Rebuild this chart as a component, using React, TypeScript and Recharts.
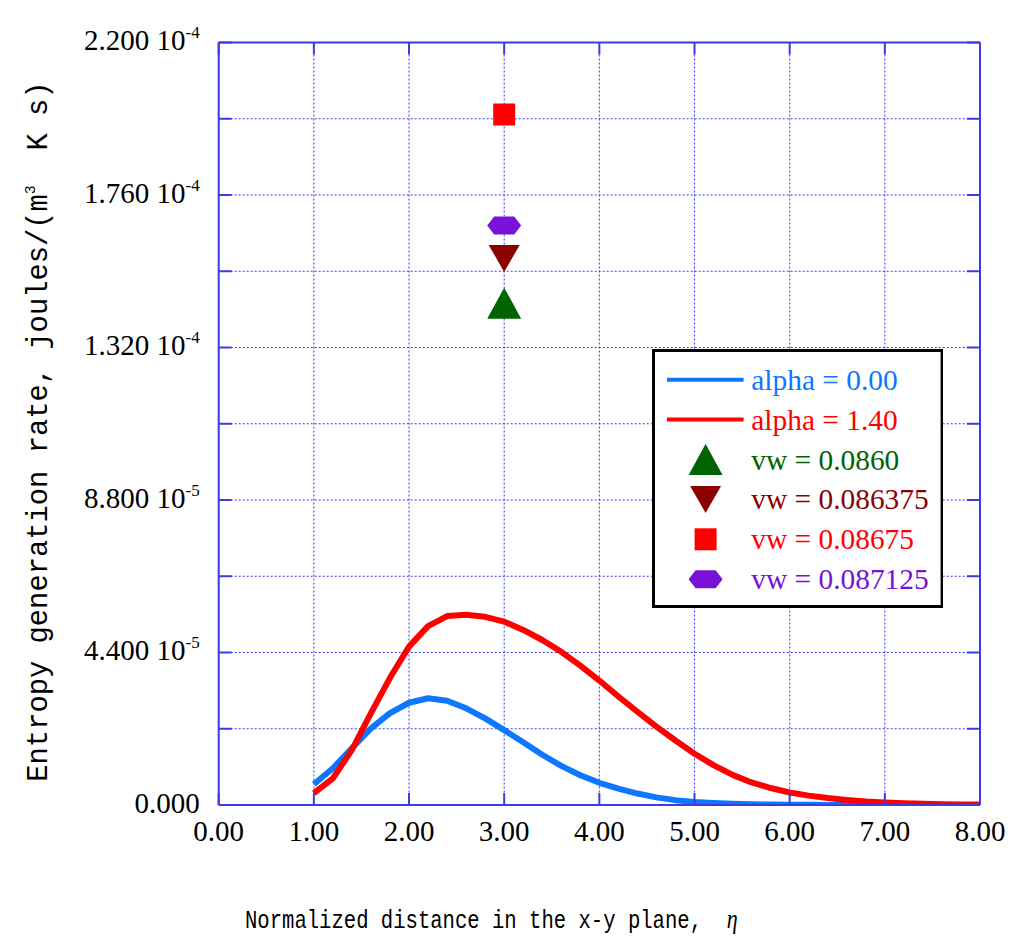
import React from 'react';
import { ComposedChart, Line, Scatter, XAxis, YAxis, CartesianGrid, Legend } from 'recharts';

// ---------------- data ----------------
const etaValues = [
  1.0, 1.2, 1.4, 1.6, 1.8, 2.0, 2.2, 2.4, 2.6, 2.8, 3.0, 3.2, 3.4, 3.6, 3.8, 4.0, 4.2, 4.4,
  4.6, 4.8, 5.0, 5.2, 5.4, 5.6, 5.8, 6.0, 6.2, 6.4, 6.6, 6.8, 7.0, 7.2, 7.4, 7.6, 7.8, 8.0,
];
const entropyAlpha000 = [
  0.60e-5, 1.06e-5, 1.64e-5, 2.21e-5, 2.65e-5, 2.95e-5, 3.08e-5, 3.01e-5, 2.79e-5, 2.50e-5,
  2.16e-5, 1.81e-5, 1.45e-5, 1.13e-5, 0.86e-5, 0.64e-5, 0.47e-5, 0.33e-5, 0.22e-5, 0.14e-5,
  0.09e-5, 0.06e-5, 0.035e-5, 0.02e-5, 0.012e-5, 0.007e-5, 0.004e-5, 0.002e-5, 0.001e-5,
  0.0006e-5, 0.0003e-5, 0.0002e-5, 0.0001e-5, 0.0001e-5, 0, 0,
];
const entropyAlpha140 = [
  0.34e-5, 0.77e-5, 1.59e-5, 2.65e-5, 3.67e-5, 4.57e-5, 5.16e-5, 5.45e-5, 5.49e-5, 5.43e-5,
  5.29e-5, 5.05e-5, 4.76e-5, 4.42e-5, 4.02e-5, 3.59e-5, 3.13e-5, 2.69e-5, 2.26e-5, 1.86e-5,
  1.48e-5, 1.15e-5, 0.87e-5, 0.65e-5, 0.49e-5, 0.36e-5, 0.27e-5, 0.20e-5, 0.145e-5, 0.10e-5,
  0.07e-5, 0.05e-5, 0.035e-5, 0.025e-5, 0.018e-5, 0.012e-5,
];
const markerEta = 3.0;
const markerValues = [1.448e-4, 1.577e-4, 1.992e-4, 1.672e-4]; // vw = 0.0860, 0.086375, 0.08675, 0.087125

const seriesLabels = [
  'alpha = 0.00',
  'alpha = 1.40',
  'vw = 0.0860',
  'vw = 0.086375',
  'vw = 0.08675',
  'vw = 0.087125',
];

const xTicks = [0, 1, 2, 3, 4, 5, 6, 7, 8];
const xTickLabels = ['0.00', '1.00', '2.00', '3.00', '4.00', '5.00', '6.00', '7.00', '8.00'];
const yTicks = [0, 0.000022, 0.000044, 0.000066, 0.000088, 0.00011, 0.000132, 0.000154, 0.000176, 0.000198, 0.00022];
const yTickMantissa = ['0.000', '', '4.400', '', '8.800', '', '1.320', '', '1.760', '', '2.200'];
const yTickExponent = ['', '', '-5', '', '-5', '', '-4', '', '-4', '', '-4'];

const xTitle = 'Normalized distance in the x-y plane,  ';
const xTitleSymbol = 'η';
const yTitleMain = 'Entropy generation rate, joules/(m';
const yTitleSup = '3';
const yTitleEnd = '  K s)';

// ---------------- styles ----------------
const W = 1008;
const H = 930;
const PLOT_L = 210.7;
const PLOT_T = 34.5;
const PLOT_R = 972;
const PLOT_B = 797;

const AXIS = '#3c3ce6';
const GRID = '#3a3af2';
const BLUE = '#0d78ff';
const RED = '#ff0000';
const GREEN = '#006400';
const DARKRED = '#8b0000';
const PURPLE = '#7812d8';
const SERIF = "'Liberation Serif', 'Times New Roman', serif";
const MONO = "'Liberation Mono', 'Courier New', monospace";

const seriesColors = [BLUE, RED, GREEN, DARKRED, RED, PURPLE];
const markerKinds = ['up', 'down', 'square', 'hex'];

const alpha000Data = etaValues.map((x, i) => ({ x, y: entropyAlpha000[i] }));
const alpha140Data = etaValues.map((x, i) => ({ x, y: entropyAlpha140[i] }));
const markerData = markerValues.map((v) => [{ x: markerEta, y: v }]);

function markerPath(kind: string, cx: number, cy: number): string {
  switch (kind) {
    case 'up':
      return `M${cx},${cy - 15.5} L${cx + 17},${cy + 15.5} L${cx - 17},${cy + 15.5} Z`;
    case 'down':
      return `M${cx - 15.5},${cy - 13.5} L${cx + 15.5},${cy - 13.5} L${cx},${cy + 13.5} Z`;
    case 'square':
      return `M${cx - 11},${cy - 11} L${cx + 11},${cy - 11} L${cx + 11},${cy + 11} L${cx - 11},${cy + 11} Z`;
    default:
      return `M${cx - 17},${cy} L${cx - 10},${cy - 9} L${cx + 10},${cy - 9} L${cx + 17},${cy} L${cx + 10},${cy + 9} L${cx - 10},${cy + 9} Z`;
  }
}

function makeShape(kind: string, color: string) {
  return (props: any) => {
    const { cx, cy } = props;
    if (cx == null || cy == null) return <g />;
    return <path d={markerPath(kind, cx, cy)} fill={color} stroke="none" />;
  };
}

const TICK_LEN = 13;
const TICK_FONT = 29;

function LeftTick(props: any) {
  const { x, y, payload } = props;
  const i = yTicks.findIndex((t) => Math.abs(t - payload.value) < 1e-12);
  const m = yTickMantissa[i];
  const e = yTickExponent[i];
  return (
    <g>
      <line x1={x} y1={y} x2={x + TICK_LEN} y2={y} stroke={AXIS} strokeWidth={2} />
      {m ? (
        <text x={x - 19} y={y + 7.5} textAnchor="end" fontFamily={SERIF} fontSize={TICK_FONT} fill="#000" style={{ whiteSpace: 'pre' }}>
          {e ? `${m} 10` : m}
          {e ? (
            <tspan dy={-12} fontSize={17}>
              {e}
            </tspan>
          ) : null}
        </text>
      ) : null}
    </g>
  );
}

function RightTick(props: any) {
  const { x, y } = props;
  return <line x1={x} y1={y} x2={x - TICK_LEN} y2={y} stroke={AXIS} strokeWidth={2} />;
}

function BottomTick(props: any) {
  const { x, y, payload } = props;
  const i = xTicks.indexOf(payload.value);
  return (
    <g>
      <line x1={x} y1={y} x2={x} y2={y - 12} stroke={AXIS} strokeWidth={2} />
      <text x={x} y={y + 36} textAnchor="middle" fontFamily={SERIF} fontSize={TICK_FONT} fill="#000">
        {xTickLabels[i]}
      </text>
    </g>
  );
}

function TopTick(props: any) {
  const { x, y } = props;
  return <line x1={x} y1={y} x2={x} y2={y + 12} stroke={AXIS} strokeWidth={2} />;
}

function XTitle() {
  return (
    <g transform={`translate(237, 920) scale(1, 1.25)`}>
      <text x={0} y={0} fontFamily={MONO} fontSize={20.6} fill="#000" style={{ whiteSpace: 'pre' }}>
        {xTitle}
        <tspan fontFamily={SERIF} fontStyle="italic" fontSize={22}>
          {xTitleSymbol}
        </tspan>
      </text>
    </g>
  );
}

function YTitle() {
  const bx = 39;
  const by = 773.7;
  return (
    <text
      x={bx}
      y={by}
      transform={`rotate(-90, ${bx}, ${by})`}
      fontFamily={MONO}
      fontSize={28.8}
      fill="#000"
      style={{ whiteSpace: 'pre' }}
    >
      {yTitleMain}
      <tspan dy={-12} fontSize={15}>
        {yTitleSup}
      </tspan>
      <tspan dy={12}>{yTitleEnd}</tspan>
    </text>
  );
}

const LEG_W = 291.6;
const LEG_H = 259;

function LegendBox() {
  const rows = seriesLabels.map((label, i) => ({ label, color: seriesColors[i], cy: 30.7 + i * 39.9 }));
  return (
    <svg width={LEG_W} height={LEG_H} style={{ display: 'block' }}>
      <rect x={1.5} y={1.5} width={LEG_W - 3} height={LEG_H - 3} fill="#fff" stroke="#000" strokeWidth={3} />
      {rows.map((r, i) => (
        <g key={i}>
          {i < 2 ? (
            <line x1={15} y1={r.cy} x2={91.6} y2={r.cy} stroke={r.color} strokeWidth={4} />
          ) : (
            <path d={markerPath(markerKinds[i - 2], 53.6, r.cy)} fill={r.color} />
          )}
          <text x={99.3} y={r.cy + 10} fontFamily={SERIF} fontSize={29.4} fill={r.color}>
            {r.label}
          </text>
        </g>
      ))}
    </svg>
  );
}

export default function App() {
  return (
    <div style={{ width: W, height: H }}>
      <ComposedChart width={W} height={H} margin={{ top: 0, right: 0, bottom: 0, left: 0 }}>
        <XAxis
          xAxisId="b"
          type="number"
          dataKey="x"
          domain={[0, 8]}
          ticks={xTicks}
          interval={0}
          allowDataOverflow
          height={H - PLOT_B}
          tickSize={0}
          tickMargin={0}
          tickLine={false}
          axisLine={{ stroke: AXIS, strokeWidth: 2 }}
          tick={BottomTick}
          label={XTitle}
        />
        <XAxis
          xAxisId="t"
          orientation="top"
          type="number"
          dataKey="x"
          domain={[0, 8]}
          ticks={xTicks}
          interval={0}
          allowDataOverflow
          height={PLOT_T}
          tickSize={0}
          tickMargin={0}
          tickLine={false}
          axisLine={{ stroke: AXIS, strokeWidth: 2 }}
          tick={TopTick}
        />
        <YAxis
          yAxisId="l"
          type="number"
          dataKey="y"
          domain={[0, 0.00022]}
          ticks={yTicks}
          interval={0}
          allowDataOverflow
          width={PLOT_L}
          tickSize={0}
          tickMargin={0}
          tickLine={false}
          axisLine={{ stroke: AXIS, strokeWidth: 2 }}
          tick={LeftTick}
          label={YTitle}
        />
        <YAxis
          yAxisId="r"
          orientation="right"
          type="number"
          dataKey="y"
          domain={[0, 0.00022]}
          ticks={yTicks}
          interval={0}
          allowDataOverflow
          width={W - PLOT_R}
          tickSize={0}
          tickMargin={0}
          tickLine={false}
          axisLine={{ stroke: AXIS, strokeWidth: 2 }}
          tick={RightTick}
        />
        <CartesianGrid xAxisId="b" yAxisId="l" stroke={GRID} strokeDasharray="2 2" strokeWidth={1} />
        <Line
          xAxisId="t"
          yAxisId="r"
          data={alpha140Data}
          dataKey="y"
          stroke="none"
          strokeOpacity={0}
          dot={false}
          activeDot={false}
          legendType="none"
          isAnimationActive={false}
        />
        <Line
          xAxisId="b"
          yAxisId="l"
          data={alpha000Data}
          dataKey="y"
          type="linear"
          stroke={BLUE}
          strokeWidth={6}
          strokeLinejoin="round"
          dot={false}
          activeDot={false}
          isAnimationActive={false}
        />
        <Line
          xAxisId="b"
          yAxisId="l"
          data={alpha140Data}
          dataKey="y"
          type="linear"
          stroke={RED}
          strokeWidth={6}
          strokeLinejoin="round"
          dot={false}
          activeDot={false}
          isAnimationActive={false}
        />
        {markerData.map((d, i) => (
          <Scatter
            key={i}
            xAxisId="b"
            yAxisId="l"
            data={d}
            dataKey="y"
            shape={makeShape(markerKinds[i], seriesColors[i + 2])}
            isAnimationActive={false}
          />
        ))}
        <Legend
          layout="vertical"
          align="center"
          verticalAlign="middle"
          content={LegendBox}
          wrapperStyle={{ position: 'absolute', left: 643.7, top: 341.3, width: LEG_W, height: LEG_H, right: 'auto', bottom: 'auto', margin: 0, padding: 0 }}
        />
      </ComposedChart>
    </div>
  );
}
